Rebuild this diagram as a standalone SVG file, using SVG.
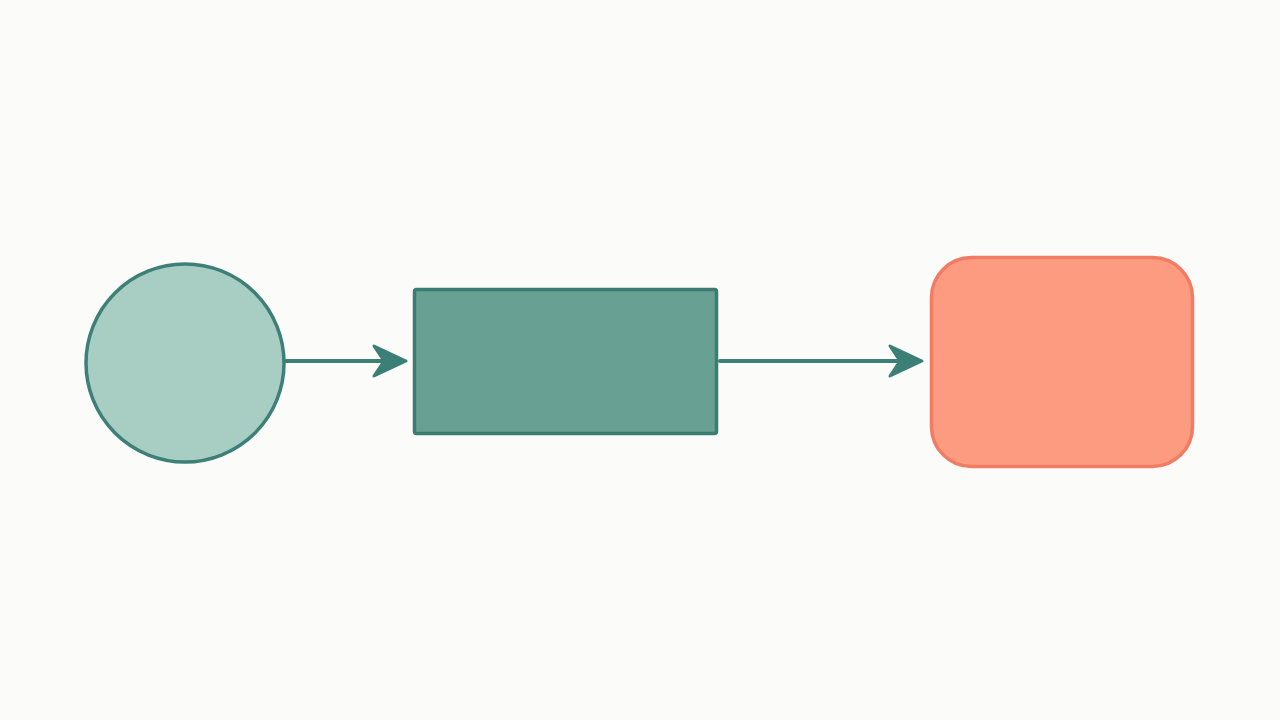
<svg xmlns="http://www.w3.org/2000/svg" width="1280" height="720" viewBox="0 0 1280 720">
<style>
.conn{stroke:#3b7f76;stroke-width:4;fill:none;stroke-linecap:round}
.head{fill:#3b7f76;stroke:#3b7f76;stroke-width:3;stroke-linejoin:round}
</style>
<rect width="1280" height="720" fill="#fbfbfa"/>
<g id="start">
<circle cx="185" cy="363" r="99" fill="#a8cec4" stroke="#3d8078" stroke-width="3.5"/>
</g>
<g id="process">
<rect x="414.5" y="289.5" width="302" height="144" rx="2" fill="#68a093" stroke="#3b7d72" stroke-width="3.5"/>
</g>
<g id="end">
<rect x="931.5" y="257.5" width="261" height="209" rx="40" fill="#fd9b80" stroke="#f07c64" stroke-width="3.5"/>
</g>
<g id="connectors">
<line class="conn" x1="286" y1="361" x2="396" y2="361"/>
<path class="head" d="M406,361 L374,346 L384,361 L374,376 Z"/>
<line class="conn" x1="720" y1="361" x2="912" y2="361"/>
<path class="head" d="M922,361 L890,346 L900,361 L890,376 Z"/>
</g>
</svg>
